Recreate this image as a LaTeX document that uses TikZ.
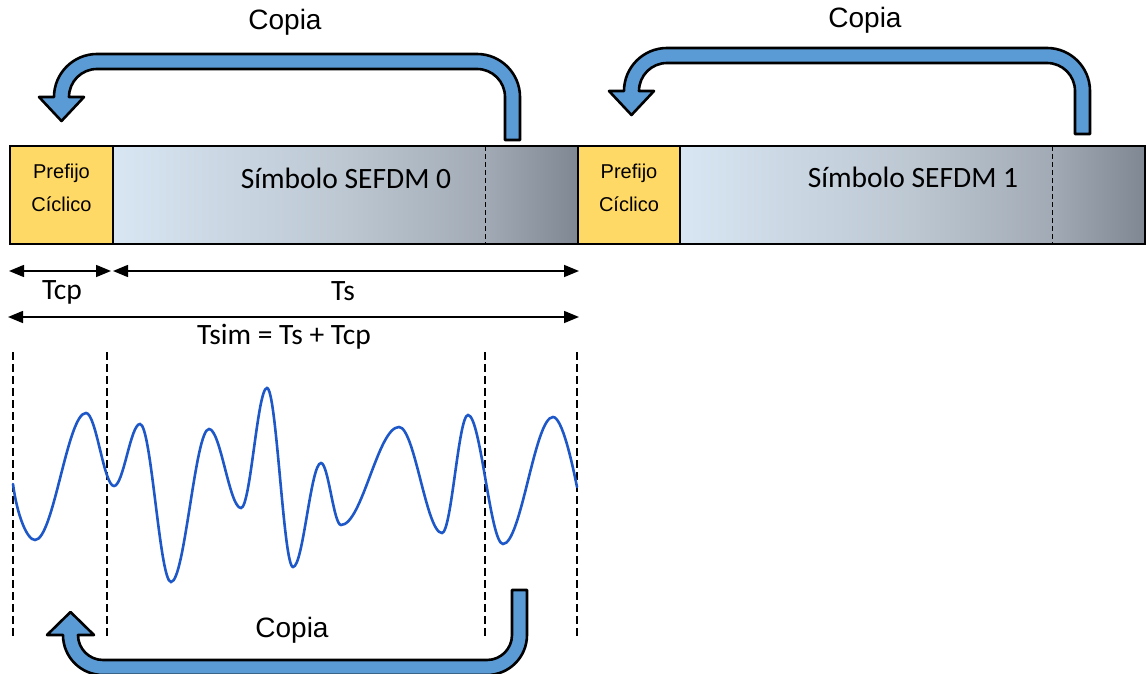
\documentclass[tikz,border=0pt]{standalone}
\usepackage{fontspec}
\setmainfont{Liberation Sans}
\newfontfamily\calfont{Carlito}
\usetikzlibrary{arrows.meta}

\definecolor{arrowblue}{HTML}{5B9BD5}
\definecolor{cpyellow}{HTML}{FFD966}
\definecolor{waveblue}{RGB}{30,88,200}
\definecolor{symA}{HTML}{D8E6F3}
\definecolor{symB}{HTML}{BCC7D2}
\definecolor{symC}{HTML}{A2ABB5}
\definecolor{symD}{HTML}{7F8892}

% light blue to slate grey across a symbol body
\pgfdeclarehorizontalshading{symshade}{100bp}{color(0bp)=(symA); color(25bp)=(symA);
  color(50bp)=(symB); color(65bp)=(symC); color(75bp)=(symD); color(100bp)=(symD)}

\tikzset{
  copyloop/.pic={
    \draw[copyarrow] (520,140) -- (520,97) .. controls (520,73.3) and (500.7,54) .. (477,54)
      -- (97,54) .. controls (73.3,54) and (54,73.3) .. (54,97)
      -- (39,97) -- (61.5,121) -- (84,97) -- (69,97)
      .. controls (69,81.5) and (81.5,69) .. (97,69)
      -- (477,69) .. controls (492.5,69) and (505,81.5) .. (505,97)
      -- (505,140) -- cycle;
  }
}

\begin{document}
\begin{tikzpicture}[x=1pt,y=-1pt,
  frame/.style={draw=black,line width=2.5pt},
  copyarrow/.style={fill=arrowblue,draw=black,line width=2.6pt,line join=round},
  dim/.style={line width=1.5pt,{Triangle[length=15pt,width=12pt]}-{Triangle[length=15pt,width=12pt]}},
  guide/.style={line width=1.2pt,dash pattern=on 8pt off 4pt},
  split/.style={line width=1pt,dash pattern=on 5pt off 3pt},
  wave/.style={draw=waveblue,line width=2.6pt,line cap=round},
  lbl/.style={font=\fontsize{28}{32}\selectfont},
  cal/.style={font=\calfont\fontsize{29.5}{33}\selectfont},
  cptext/.style={font=\fontsize{20}{33}\selectfont,align=center}]

\useasboundingbox (0,0) rectangle (1146,674);

% copy arrows above the two symbols
\pic at (0,0) {copyloop};
\pic at (570,-6) {copyloop};
\node[lbl] (copia0) at (285,22) {Copia};
\node[lbl] (copia1) at (865,20) {Copia};

% symbol 0
\shade[shading=symshade] (113,146) rectangle (578,244);
\fill[cpyellow] (10,146) rectangle (113,244);
\draw[split] (485,146) -- (485,244);
\draw[frame] (10,146) rectangle (578,244);
\draw[frame] (113,146) -- (113,244);
\node[cptext] (cp0) at (61.5,188) {Prefijo\\Cíclico};
\node[cal] (sym0) at (346,178) {Símbolo SEFDM 0};

% symbol 1
\shade[shading=symshade] (680,146) rectangle (1145,244);
\fill[cpyellow] (578,146) rectangle (680,244);
\draw[split] (1052,146) -- (1052,244);
\draw[frame] (578,146) rectangle (1145,244);
\draw[frame] (680,146) -- (680,244);
\node[cptext] (cp1) at (629,188) {Prefijo\\Cíclico};
\node[cal] (sym1) at (913,177) {Símbolo SEFDM 1};

% durations
\coordinate (tcpL) at (9,271);
\coordinate (tcpR) at (111,271);
\coordinate (tsL) at (113,271);
\coordinate (tsR) at (579,271);
\coordinate (tsimL) at (8,317);
\coordinate (tsimR) at (579,317);
\draw[dim] (tcpL) -- (tcpR);
\draw[dim] (tsL) -- (tsR);
\draw[dim] (tsimL) -- (tsimR);
\node[cal] (tcp) at (62,292) {Tcp};
\node[cal] (ts) at (343,291) {Ts};
\node[cal] (tsim) at (284,337) {Tsim = Ts + Tcp};

% time guides
\foreach \gx/\gn in {13/g0,107/g1,485/g2,577/g3}{
  \coordinate (\gn top) at (\gx,352);
  \coordinate (\gn bot) at (\gx,638);
  \draw[guide] (\gn top) -- (\gn bot);
}

% time-domain signal
\draw[wave] (13,484) .. controls (17,515) and (27,540) .. (35,540)
  .. controls (53.6,540) and (67.4,413) .. (86,413)
  .. controls (96.2,413) and (103.8,486) .. (114,486)
  .. controls (123.5,486) and (130.5,424) .. (140,424)
  .. controls (151.3,424) and (159.7,582) .. (171,582)
  .. controls (184.8,582) and (195.2,429) .. (209,429)
  .. controls (220.6,429) and (229.4,508) .. (241,508)
  .. controls (250.5,508) and (257.5,388) .. (267,388)
  .. controls (276.5,388) and (283.5,567) .. (293,567)
  .. controls (303.2,567) and (310.8,463) .. (321,463)
  .. controls (328.3,463) and (333.7,525) .. (341,525)
  .. controls (362.1,525) and (377.9,427) .. (399,427)
  .. controls (414.7,427) and (426.3,533) .. (442,533)
  .. controls (451.5,533) and (458.5,415) .. (468,415)
  .. controls (480.7,415) and (490.3,544) .. (503,544)
  .. controls (521.2,544) and (534.8,417) .. (553,417)
  .. controls (562,417) and (572,462) .. (577,487);

% copy arrow below the signal
\draw[copyarrow] (527,590) -- (527,635) .. controls (527,657.1) and (509.1,675) .. (487,675)
  -- (103,675) .. controls (80.9,675) and (63,657.1) .. (63,635)
  -- (47,635) -- (70.5,612) -- (94,635) -- (78,635)
  .. controls (78,648.8) and (89.2,660) .. (103,660)
  -- (487,660) .. controls (500.8,660) and (512,648.8) .. (512,635)
  -- (512,590) -- cycle;
\node[lbl] (copia2) at (292,630) {Copia};

\end{tikzpicture}
\end{document}
